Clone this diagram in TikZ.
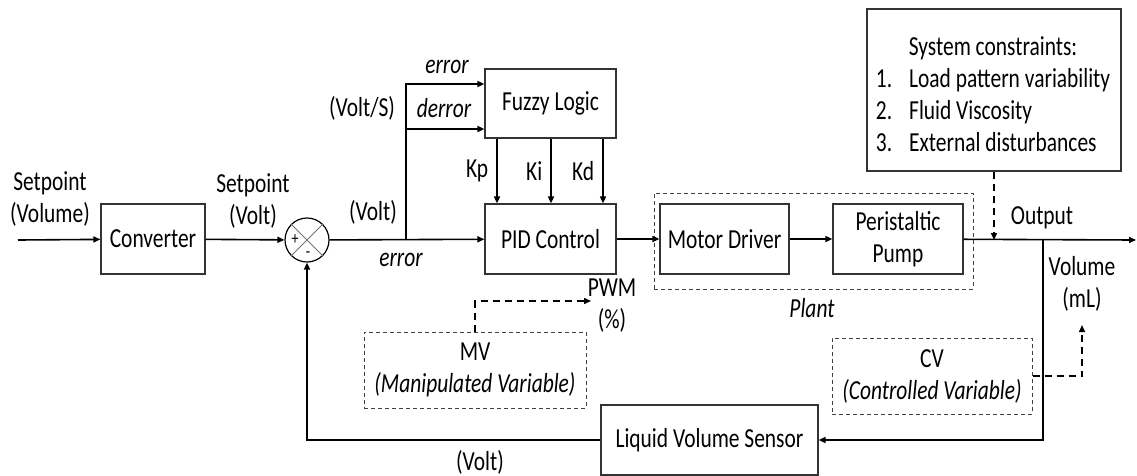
\documentclass[tikz,border=0pt]{standalone}
\usepackage{fontspec}
\setmainfont{Carlito}[FakeStretch=0.78]
\usetikzlibrary{arrows.meta, positioning, calc}
\tikzset{
  arrowK/.style={-{Triangle[length=7pt, width=6pt]}, line width=1.6pt},
  arrowDash/.style={-{Triangle[length=7pt, width=6pt]}, line width=1.5pt,
                    dash pattern=on 7pt off 5pt},
  blockA/.style={rectangle, draw=black!80, line width=1.2pt, align=center,
                 minimum height=70pt, inner sep=0pt},
  dashBox/.style={rectangle, draw=black!75, line width=1pt,
                  dash pattern=on 4pt off 3pt, align=center, inner sep=0pt},
  lbl/.style={inner sep=0pt, align=center},
  lblIt/.style={inner sep=0pt, align=center, font=\fontsize{27.5}{32}\selectfont\itshape},
}

\begin{document}
\begin{tikzpicture}[x=1pt, y=-1pt, font=\fontsize{27.5}{32}\selectfont]
  \useasboundingbox (0,0) rectangle (1137,475);

  % blocks
  \node[blockA, minimum width=104pt] (conv) at (153,239) {Converter};
  \node[circle, draw, line width=1.2pt, minimum size=44pt, inner sep=0pt] (sum) at (307,240) {};
  \draw[black!55, line width=0.8pt] (sum.45) -- (sum.225) (sum.135) -- (sum.315);
  \node[lbl, font=\fontsize{18}{20}\selectfont] (plus) at (295,240) {+};
  \node[lbl, font=\fontsize{18}{20}\selectfont] (minus) at (308,255) {-};
  \node[blockA, minimum width=131pt, minimum height=69pt] (fuzzy) at (550.5,103.5) {Fuzzy Logic};
  \node[blockA, minimum width=131pt] (pid) at (550.5,239) {PID Control};
  \node[blockA, minimum width=129pt] (motor) at (724.5,239) {Motor Driver};
  \node[blockA, minimum width=130pt] (pump) at (898,239) {Peristaltic\\Pump};
  \node[dashBox, minimum width=319pt, minimum height=96pt] (plant) at (813.5,241) {};
  \node[blockA, minimum width=217pt] (sensor) at (709.5,440) {Liquid Volume Sensor};
  \node[blockA, minimum width=254pt, minimum height=162pt] (cons) at (994,90) {};
  \node[lbl] (consTxt) at (993,97.5) {%
    \begin{tabular}{@{}l@{\hspace{17pt}}l@{}}
      \multicolumn{2}{c}{System constraints:}\\
      1. & Load pattern variability\\
      2. & Fluid Viscosity\\
      3. & External disturbances
    \end{tabular}};
  \node[dashBox, minimum width=222pt, minimum height=76pt] (mv) at (475,370)
    {MV\\\textit{(Manipulated Variable)}};
  \node[dashBox, minimum width=200pt, minimum height=76pt] (cv) at (932,376)
    {CV\\\textit{(Controlled Variable)}};

  % labels
  \node[lbl] (spVol) at (50,199) {Setpoint\\(Volume)};
  \node[lbl] (spVolt) at (253,201) {Setpoint\\(Volt)};
  \node[lbl] (voltA) at (373,212) {(Volt)};
  \node[lbl] (voltS) at (362,108) {(Volt/S)};
  \node[lblIt] (errTop) at (447,67) {error};
  \node[lblIt] (derr) at (444,108) {derror};
  \node[lblIt] (errMain) at (401,260) {error};
  \node[lblIt] (plantLbl) at (812,308) {Plant};
  \node[lbl] (outLbl) at (1042,218) {Output};
  \node[lbl] (vol) at (1082,284) {Volume\\(mL)};
  \node[lbl] (pwm) at (612,306) {PWM\\(\%)};
  \node[lbl] (voltB) at (480,462) {(Volt)};

  \coordinate (in) at (18,240);
  \coordinate (split) at (406,240);
  \coordinate (tap) at (1043,240);
  \coordinate (out) at (1136,240);
  \coordinate (pwmIn) at (591,301);
  \coordinate (volIn) at (1082,325);

  % signal flow
  \draw[arrowK] (in) -- (conv);
  \draw[arrowK] (conv) -- (sum);
  \draw[arrowK] (sum) -- (pid);
  \draw[arrowK] (split) |- ([yshift=19.5pt]fuzzy.west);
  \draw[arrowK] ([yshift=-25.5pt]fuzzy.west -| split) -- ([yshift=-25.5pt]fuzzy.west);
  \foreach \dx/\gain in {-53.5/Kp, 0.5/Ki, 52.5/Kd}
    \draw[arrowK] ([xshift=\dx pt]fuzzy.south) -- node[lbl, left=8pt] {\gain} ([xshift=\dx pt]pid.north);
  \draw[arrowK] (pid) -- (motor);
  \draw[arrowK] (motor) -- (pump);
  \draw[arrowK] (pump) -- (out);
  \draw[arrowDash] (cons.south) -- (cons.south |- out);
  \draw[arrowK] (tap) |- (sensor);
  \draw[arrowK] (sensor) -| (sum);
  \draw[arrowDash] (mv.north) |- (pwmIn);
  \draw[arrowDash] (cv.east) -| (volIn);
\end{tikzpicture}
\end{document}
